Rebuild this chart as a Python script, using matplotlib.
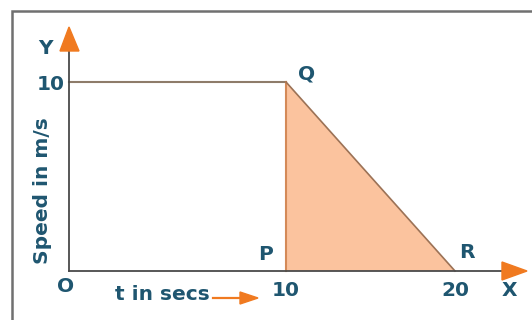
import numpy as np
import matplotlib
matplotlib.use("Agg")
from matplotlib import pyplot as plt
from matplotlib.patches import Rectangle, Polygon

# speed-time graph: O -> Q at constant speed, then Q -> R decelerating
t_flat = [0, 10]
v_flat = [10, 10]
t_tri = [10, 10, 20]
v_tri = [0, 10, 0]
x_ticks = [10, 20]
y_ticks = [10]
point_names = ["P", "Q", "R"]
point_t = [10, 10, 20]
point_v = [0, 10, 0]

txt = "#1f5670"
orange = "#f07a20"
axis_c = "#4a4a4a"
font = ["DejaVu Sans"]
fs = 14.5

W, H = 532, 320


def px(x, y):
    # pixel position -> axes fraction
    return (x / W, 1 - y / H)


# the original drawing is not to scale: 0-10 is wider than 10-20
def fwd(t):
    t = np.asarray(t, dtype=float)
    return np.where(t < 10, t * 21.7, 217 + (t - 10) * 16.9)


def inv(u):
    u = np.asarray(u, dtype=float)
    return np.where(u < 217, u / 21.7, 10 + (u - 217) / 16.9)


fig = plt.figure(figsize=(W / 100, H / 100), dpi=100)
ax = fig.add_axes([0, 0, 1, 1])
ax.set_xscale("function", functions=(fwd, inv))
ax.set_xlim(float(inv(-69)), float(inv(463)))
ax.set_ylim(-271 / 18.9 * 0 - 49 / 18.9, 271 / 18.9)
ax.patch.set_visible(False)

# outer frame
fig.patches.append(Rectangle((12 / W, -0.1), 1.2, 1 - 11 / H + 0.1,
                             transform=fig.transFigure, fill=False,
                             edgecolor="#707070", linewidth=1.8))

# axes as spines through the origin
for s in ["top", "right"]:
    ax.spines[s].set_visible(False)
ax.spines["bottom"].set_position(("data", 0))
ax.spines["left"].set_position(("data", 0))
ax.spines["bottom"].set_bounds(0, float(inv(502 - 69)))
ax.spines["left"].set_bounds(0, (271 - 50) / 18.9)
for s in ["bottom", "left"]:
    ax.spines[s].set_color(axis_c)
    ax.spines[s].set_linewidth(1.3)

ax.set_xticks(x_ticks)
ax.set_yticks(y_ticks)
ax.set_xticklabels([str(t) for t in x_ticks])
ax.set_yticklabels([str(v) for v in y_ticks])
ax.xaxis.set_minor_locator(matplotlib.ticker.NullLocator())
ax.tick_params(length=0, colors=txt, labelsize=fs)
ax.tick_params(axis="x", pad=7)
ax.tick_params(axis="y", pad=3)
for lab in ax.get_xticklabels() + ax.get_yticklabels():
    lab.set_fontweight("bold")
    lab.set_family(font)

# shaded area under QR and the graph lines
ax.fill(t_tri, v_tri, color="#fbc39e", zorder=1, lw=0)
ax.plot(t_flat, v_flat, color="#8e7c6a", lw=1.5, zorder=2)
ax.plot(t_tri[:2], v_tri[:2], color="#d48a58", lw=1.5, zorder=2)
ax.plot(t_tri[1:], v_tri[1:], color="#9c7256", lw=1.2, zorder=2)

# arrow heads
ax.add_patch(Polygon([px(527, 271), px(502, 262), px(502, 280)],
                     closed=True, color=orange, transform=ax.transAxes, zorder=4))
ax.add_patch(Polygon([px(69, 27), px(60, 51), px(79, 51)],
                     closed=True, color=orange, transform=ax.transAxes, zorder=4))
ax.plot([px(213, 0)[0], px(242, 0)[0]], [px(0, 298)[1]] * 2, color=orange,
        lw=1.6, transform=ax.transAxes, zorder=4)
ax.add_patch(Polygon([px(258, 298), px(240, 292), px(240, 304)],
                     closed=True, color=orange, transform=ax.transAxes, zorder=4))

style = dict(color=txt, fontsize=fs, fontweight="bold", family=font,
             ha="center", va="center", transform=ax.transAxes)
ax.text(*px(66, 287), "O", **style)
ax.text(*px(509, 290), "X", **style)
ax.text(*px(45, 49), "Y", **style)
ax.text(*px(162, 295), "t in secs", **style)
ax.text(*px(43, 191), "Speed in m/s", rotation=90, **style)

# point labels, offset in pixels from the data points
offsets = {"P": (-20, 16), "Q": (21, 8), "R": (12, 19)}
for name, t, v in zip(point_names, point_t, point_v):
    ax.annotate(name, (t, v), xytext=offsets[name], textcoords="offset pixels",
                color=txt, fontsize=fs, fontweight="bold", family=font,
                ha="center", va="center")

fig.savefig("out.png", dpi=100)
